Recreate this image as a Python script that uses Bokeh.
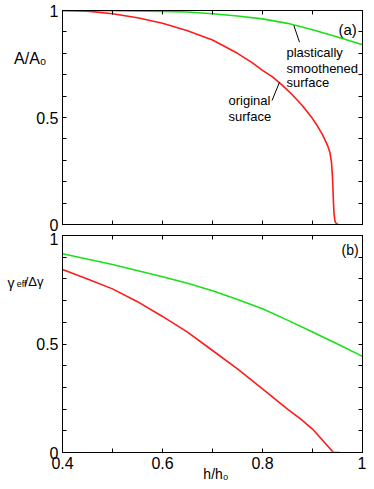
import json
from bokeh.plotting import figure
from bokeh.layouts import column
from bokeh.models import FixedTicker, CustomJSTickFormatter, LinearAxis, Label, Range1d
from bokeh.embed import file_html
from bokeh.resources import INLINE

# ---------------- data ----------------
x_ticks = [0.4, 0.5, 0.6, 0.7, 0.8, 0.9, 1.0]
x_tick_labels = {0.4: "0.4", 0.6: "0.6", 0.8: "0.8", 1.0: "1"}
y_ticks = [0.0, 0.1, 0.2, 0.3, 0.4, 0.5, 0.6, 0.7, 0.8, 0.9, 1.0]
y_tick_labels = {0.0: "0", 0.5: "0.5", 1.0: "1"}

# panel (a): A/A0
a_orig_x = [0.40, 0.45, 0.50, 0.55, 0.60, 0.65, 0.70, 0.75, 0.78, 0.80, 0.82, 0.84, 0.86,
            0.88, 0.90, 0.91, 0.92, 0.93, 0.935, 0.938, 0.940, 0.941, 0.942, 0.943,
            0.945, 0.948, 0.952]
a_orig_y = [1.0, 0.997, 0.985, 0.966, 0.94, 0.905, 0.862, 0.80, 0.755, 0.72, 0.69, 0.65, 0.605,
            0.555, 0.495, 0.46, 0.42, 0.37, 0.335, 0.29, 0.22, 0.159, 0.10, 0.051,
            0.015, 0.003, 0.0]
a_smooth_x = [0.40, 0.50, 0.60, 0.65, 0.70, 0.75, 0.80, 0.85, 0.90, 0.95, 1.0]
a_smooth_y = [1.0, 0.999, 0.996, 0.993, 0.985, 0.974, 0.961, 0.94, 0.91, 0.876, 0.84]

# panel (b): gamma_eff / delta gamma
b_orig_x = [0.40, 0.45, 0.50, 0.55, 0.60, 0.65, 0.70, 0.75, 0.80, 0.85, 0.876, 0.90, 0.942, 0.955]
b_orig_y = [0.843, 0.80, 0.754, 0.695, 0.627, 0.555, 0.47, 0.385, 0.293, 0.20, 0.155, 0.108, 0.0, 0.0]
b_smooth_x = [0.40, 0.50, 0.60, 0.65, 0.70, 0.75, 0.80, 0.85, 0.90, 0.95, 1.0]
b_smooth_y = [0.916, 0.866, 0.81, 0.78, 0.745, 0.705, 0.662, 0.61, 0.555, 0.50, 0.443]

RED = "#ff1a1a"
GREEN = "#1adf1a"
FONT = "Liberation Sans"


def fmt(labels):
    m = json.dumps({f"{k:.1f}": v for k, v in labels.items()})
    return CustomJSTickFormatter(code=f"const m = {m}; const k = tick.toFixed(1); return (k in m) ? m[k] : '';")


def style_axis(ax, ticks, labels, show):
    ax.ticker = FixedTicker(ticks=ticks)
    ax.axis_line_color = "black"
    ax.major_tick_line_color = "black"
    ax.major_tick_in = 4
    ax.major_tick_out = 0
    ax.minor_tick_line_color = None
    if show:
        ax.formatter = fmt(labels)
        ax.major_label_text_font = FONT
        ax.major_label_text_font_size = "16px"
        ax.major_label_text_color = "black"
        ax.major_label_standoff = 4
    else:
        ax.formatter = fmt({})
        ax.major_label_text_font_size = "0px"
        ax.major_label_standoff = 0


def text_axis(p, side, pos, text, size, standoff):
    # an axis used only to place one horizontal text outside the frame
    ax = LinearAxis(ticker=FixedTicker(ticks=[pos]),
                    formatter=CustomJSTickFormatter(code=f"return {json.dumps(text)};"),
                    axis_line_color=None, major_tick_line_color=None,
                    minor_tick_line_color=None, major_tick_in=0, major_tick_out=0,
                    major_label_standoff=standoff, major_label_text_font=FONT,
                    major_label_text_font_size=size, major_label_text_color="black")
    p.add_layout(ax, side)


def make_fig(frame_h, top, bottom, show_x):
    p = figure(frame_width=300, frame_height=frame_h,
               x_range=Range1d(0.4, 1.0), y_range=Range1d(0.0, 1.0),
               output_backend="svg", toolbar_location=None,
               min_border_left=62, min_border_right=4,
               min_border_top=top, min_border_bottom=bottom)
    p.xgrid.visible = False
    p.ygrid.visible = False
    p.outline_line_color = "black"
    p.background_fill_color = "white"
    p.border_fill_color = "white"
    style_axis(p.xaxis[0], x_ticks, x_tick_labels, show_x)
    style_axis(p.yaxis[0], y_ticks, y_tick_labels, True)
    ax_top = LinearAxis()
    style_axis(ax_top, x_ticks, {}, False)
    p.add_layout(ax_top, "above")
    ax_right = LinearAxis()
    style_axis(ax_right, y_ticks, {}, False)
    p.add_layout(ax_right, "right")
    return p


def lab(p, x, y, text, size):
    p.add_layout(Label(x=x, y=y, text=text, text_font=FONT, text_font_size=size,
                       text_color="black", text_align="left", text_baseline="alphabetic"))


# ---------------- panel (a) ----------------
p1 = make_fig(214, 10, 8, False)
p1.line(a_smooth_x, a_smooth_y, line_color=GREEN, line_width=1.6)
p1.line(a_orig_x, a_orig_y, line_color=RED, line_width=1.6)
p1.line([0.8627, 0.874], [0.930, 0.852], line_color="black", line_width=1)
p1.line([0.834, 0.819], [0.665, 0.579], line_color="black", line_width=1)
lab(p1, 0.848, 0.804, "plastically", "13px")
lab(p1, 0.848, 0.729, "smoothened", "13px")
lab(p1, 0.848, 0.664, "surface", "13px")
lab(p1, 0.732, 0.579, "original", "13px")
lab(p1, 0.732, 0.505, "surface", "13px")
lab(p1, 0.952, 0.911, "(a)", "15px")
text_axis(p1, "left", 0.778, "A/A₀", "16px", -13)

# ---------------- panel (b) ----------------
p2 = make_fig(217, 3, 28, True)
p2.line(b_smooth_x, b_smooth_y, line_color=GREEN, line_width=1.6)
p2.line(b_orig_x, b_orig_y, line_color=RED, line_width=1.6)
lab(p2, 0.958, 0.935, "(b)", "14px")
text_axis(p2, "left", 0.790, "/Δγ", "13px", -10)
text_axis(p2, "left", 0.777, "eff", "9px", -5)
text_axis(p2, "left", 0.782, "γ", "14px", -1)
text_axis(p2, "below", 0.707, "h/h₀", "14px", -6)

layout = column(p1, p2, spacing=0)
open("out.html", "w").write(file_html(layout, INLINE))
